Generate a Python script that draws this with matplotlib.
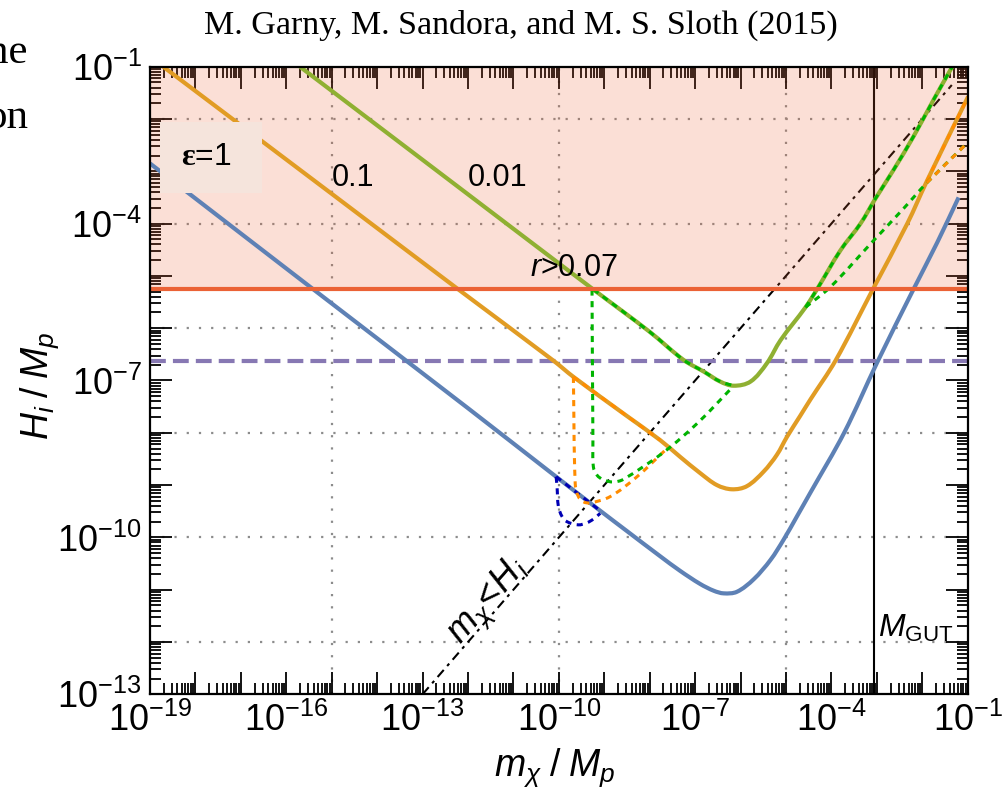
import numpy as np
import matplotlib.pyplot as plt
from matplotlib.ticker import LogLocator, FuncFormatter, NullFormatter
from matplotlib.patches import Rectangle, PathPatch
from matplotlib.path import Path

plt.rcParams['font.family'] = ['Liberation Sans', 'DejaVu Sans']
plt.rcParams['mathtext.fontset'] = 'custom'
plt.rcParams['mathtext.rm'] = 'Liberation Sans'
plt.rcParams['mathtext.it'] = 'Liberation Sans:italic'
plt.rcParams['mathtext.bf'] = 'Liberation Serif:bold'

# all values are log10 of m_X/M_p (logm) and H_i/M_p (logH)
eps1_logm = [-19.0, -15.40, -12.0, -10.06, -9.09, -8.5, -7.77, -7.33, -6.89, -6.59, -6.37,
             -6.08, -5.71, -5.34, -5.05, -4.76, -4.46, -3.72, -2.99, -2.19, -1.67, -1.20]
eps1_logH = [-2.85, -5.26, -7.53, -8.84, -9.49, -9.88, -10.36, -10.64, -10.89, -11.02, -11.07,
             -11.04, -10.80, -10.43, -10.04, -9.60, -9.14, -8.0, -6.65, -5.25, -4.36, -3.50]

eps01_logm = [-18.71, -15.0, -12.21, -10.12, -9.68, -8.5, -7.77, -7.33, -6.89, -6.52, -6.19,
              -5.86, -5.49, -5.20, -4.98, -4.69, -4.46, -3.91, -3.09, -2.33, -1.90, -0.99]
eps01_logH = [-1.0, -3.43, -5.26, -6.62, -6.93, -7.68, -8.14, -8.46, -8.77, -9.00, -9.08,
              -9.02, -8.74, -8.42, -8.08, -7.68, -7.36, -6.62, -5.26, -4.0, -3.19, -1.57]

eps001_logm = [-15.70, -12.0, -9.24, -8.0, -7.25, -6.81, -6.45, -6.15, -5.78, -5.42, -5.12,
               -4.57, -4.32, -3.80, -3.36, -3.03, -2.63, -2.19, -1.75, -1.34]
eps001_logH = [-1.0, -3.44, -5.26, -6.07, -6.61, -6.83, -7.02, -7.10, -7.02, -6.67, -6.23,
               -5.60, -5.26, -4.51, -4.0, -3.52, -2.97, -2.33, -1.63, -1.0]

# dotted branches
eps1_low_logm = [-10.06, -10.04, -10.01, -9.93, -9.82, -9.57, -9.38, -9.24, -9.09]
eps1_low_logH = [-8.84, -9.03, -9.41, -9.60, -9.70, -9.76, -9.72, -9.65, -9.54]

eps01_low_logm = [-9.68, -9.64, -9.57, -9.46, -9.31, -8.87, -8.28, -7.62]
eps01_low_logH = [-6.93, -8.97, -9.22, -9.32, -9.34, -9.22, -8.84, -8.30]

eps001_low_logm = [-9.27, -9.25, -9.24, -9.16, -9.02, -8.80, -8.58, -7.69, -6.93, -6.17]
eps001_low_logH = [-5.26, -8.14, -8.65, -8.81, -8.90, -8.94, -8.89, -8.37, -7.80, -7.12]

diag_logm = [-4.57, -4.02, -3.10, -2.41, -1.90, -1.0]
diag_logH = [-5.60, -5.21, -4.35, -3.71, -3.22, -2.45]

# reference lines
r_bound_logH = -5.26      # r > 0.07
purple_logH = -6.62
m_gut_logm = -3.07
mH_logm = [-13.0, -1.35]

blue, orange, green = '#5e81b5', '#e19c24', '#8fb032'
red, purple = '#eb6235', '#8778b3'
dot_blue, dot_orange, dot_green = '#0000b4', '#ff8c00', '#00b400'

# pixels per decade, used so the curve tangents follow the on-screen shape
SX, SY = 45.4, 52.3


def p(a):
    return 10.0 ** np.asarray(a, dtype=float)


def smooth(lx, ly):
    """Cubic Bezier path through the points (log10 values), returned in data units."""
    P = np.column_stack([np.asarray(lx) * SX, np.asarray(ly) * SY])
    n = len(P)
    T = np.zeros_like(P)
    for i in range(n):
        if i == 0:
            d = P[1] - P[0]
        elif i == n - 1:
            d = P[-1] - P[-2]
        else:
            d = P[i + 1] - P[i - 1]
        T[i] = d / np.linalg.norm(d)
    verts, codes = [P[0]], [Path.MOVETO]
    for i in range(n - 1):
        L = np.linalg.norm(P[i + 1] - P[i])
        verts += [P[i] + T[i] * L / 3, P[i + 1] - T[i + 1] * L / 3, P[i + 1]]
        codes += [Path.CURVE4] * 3
    V = np.array(verts)
    V = np.column_stack([10.0 ** (V[:, 0] / SX), 10.0 ** (V[:, 1] / SY)])
    return Path(V, codes)


def curve(ax, lx, ly, **kw):
    ax.add_patch(PathPatch(smooth(lx, ly), facecolor='none', **kw))


def part(xs, ys, lo, hi):
    xs, ys = np.asarray(xs), np.asarray(ys)
    keep = (xs >= lo - 1e-9) & (xs <= hi + 1e-9)
    return xs[keep], ys[keep]


fig = plt.figure(figsize=(10.08, 7.94), dpi=100)
ax = fig.add_axes([150 / 1008, 1 - 694.3 / 794, 817.7 / 1008, 627.6 / 794])
ax.set_xscale('log')
ax.set_yscale('log')
ax.set_xlim(1e-19, 1e-1)
ax.set_ylim(1e-13, 1e-1)

# dotted grid every 5 decades in m, every 2 decades in H
gkw = dict(color='#8c8c8c', lw=1.6, ls=(0, (1, 4.5)), zorder=1)
for e in (-15, -10, -5):
    ax.axvline(10.0 ** e, **gkw)
for e in range(-12, -1, 2):
    ax.axhline(10.0 ** e, **gkw)

ax.plot(p(mH_logm), p(mH_logm), color='black', lw=1.5, ls=(0, (4.5, 2.5, 1.5, 2.5)), zorder=1.5)
ax.axvline(p(m_gut_logm), color='black', lw=1.5, zorder=1.5)

# excluded region r > 0.07
ax.axhspan(p(r_bound_logH), 1e-1, color=red, alpha=0.2, lw=0, zorder=2)

ax.axhline(p(purple_logH), color=purple, lw=3, ls=(0, (3.8, 1.7)), zorder=2.5)

ckw = dict(lw=3, capstyle='butt')
curve(ax, eps1_logm, eps1_logH, edgecolor=blue, zorder=3, **ckw)
curve(ax, eps01_logm, eps01_logH, edgecolor=orange, zorder=3.2, **ckw)
curve(ax, eps001_logm, eps001_logH, edgecolor=green, zorder=3.2, **ckw)

# dotted curves, partly running on top of the solid ones
dkw = dict(lw=2.2, zorder=4, capstyle='butt')
dls = (0, (2, 1.8))
curve(ax, *part(eps1_logm, eps1_logH, -10.06, -9.09), edgecolor=dot_blue, ls=dls, **dkw)
curve(ax, eps1_low_logm, eps1_low_logH, edgecolor=dot_blue, ls=dls, **dkw)

curve(ax, *part(eps01_logm, eps01_logH, -9.68, -7.77), edgecolor=dot_orange, ls=dls, **dkw)
curve(ax, eps01_low_logm, eps01_low_logH, edgecolor=dot_orange, ls=dls, **dkw)
curve(ax, *part(eps01_logm, eps01_logH, -1.90, -0.99), edgecolor=dot_orange, ls=dls, **dkw)

curve(ax, *part(eps001_logm, eps001_logH, -9.24, -6.15), edgecolor=dot_green, ls=dls, **dkw)
curve(ax, eps001_low_logm, eps001_low_logH, edgecolor=dot_green, ls=dls, **dkw)
curve(ax, *part(eps001_logm, eps001_logH, -4.57, -1.34), edgecolor=dot_green, ls=dls, **dkw)
curve(ax, diag_logm, diag_logH, edgecolor=dot_green, ls=dls, **dkw)
curve(ax, *part(diag_logm, diag_logH, -1.90, -1.0), edgecolor=dot_orange, ls=(3.8, (2, 1.8)), **dkw)

ax.axhline(p(r_bound_logH), color=red, lw=3, zorder=6)

# labels
ax.add_patch(Rectangle((0.0122, 0.7983), 0.1244, 0.1141, transform=ax.transAxes,
                       facecolor='#f5e4dc', edgecolor='none', zorder=7))
ax.text(0.0693, 0.8434, r'$\mathbf{\varepsilon}$=1', transform=ax.transAxes,
        ha='center', va='baseline', fontsize=23, zorder=8)
ax.text(p(-14.53), p(-3.12), '0.1', ha='center', va='center', fontsize=22, zorder=8)
ax.text(p(-11.36), p(-3.12), '0.01', ha='center', va='center', fontsize=22, zorder=8)
ax.text(p(-9.66), p(-4.85), r'$r$>0.07', ha='center', va='center', fontsize=22, zorder=8)
ax.text(p(-2.965), p(-11.90), r'$M_{\rm GUT}$', ha='left', va='baseline', fontsize=23, zorder=8)
ax.text(p(-11.53), p(-11.235), r'$m_\chi\!<\!H_i$', ha='center', va='center',
        rotation=49, rotation_mode='anchor', fontsize=26, zorder=8)

# frame ticks
def fmt(v, pos):
    e = int(round(np.log10(v)))
    return f'$10^{{{e}}}$' if (e + 1) % 3 == 0 else ''

for axis in (ax.xaxis, ax.yaxis):
    axis.set_major_locator(LogLocator(base=10, numticks=40))
    axis.set_minor_locator(LogLocator(base=10, subs=np.arange(2, 10), numticks=40))
    axis.set_major_formatter(FuncFormatter(fmt))
    axis.set_minor_formatter(NullFormatter())

ax.tick_params(which='both', direction='in', top=True, right=True, width=1.3, color='black')
ax.tick_params(which='major', length=16, labelsize=26, pad=6)
ax.tick_params(which='minor', length=8)
for s in ax.spines.values():
    s.set_linewidth(1.6)
    s.set_zorder(9)

fig.text(555 / 1008, 1 - 768 / 794, r'$m_\chi\;/\;M_p$', ha='center', va='center', fontsize=27)
fig.text(40 / 1008, 1 - 386 / 794, r'$H_i\;/\;M_p$', ha='center', va='center',
         rotation=90, fontsize=27)

fig.text(521 / 1008, 1 - 25 / 794, 'M. Garny, M. Sandora, and M. S. Sloth (2015)',
         ha='center', va='center', fontsize=24.5, family='Liberation Serif')
fig.text(27 / 1008, 1 - 63 / 794, 'ne', ha='right', va='baseline', fontsize=31,
         family='Liberation Serif')
fig.text(28 / 1008, 1 - 128 / 794, 'on', ha='right', va='baseline', fontsize=31,
         family='Liberation Serif')

fig.savefig('out.png', dpi=100)
